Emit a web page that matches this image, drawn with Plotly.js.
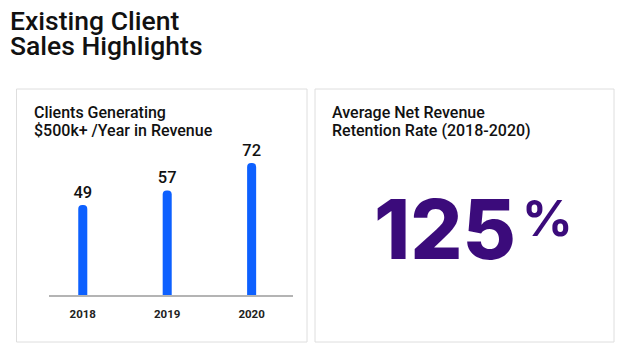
<!DOCTYPE html>
<html>
<head>
<meta charset="utf-8">
<script src="https://cdn.plot.ly/plotly-3.0.1.min.js"></script>
<style>html,body{margin:0;padding:0;background:#fff;}#chart{width:620px;height:348px;}</style>
</head>
<body>
<div id="chart"></div>
<script>
const years = ['2018', '2019', '2020'];
const clients = [49, 57, 72];
const retentionRate = '125';
const retentionUnit = '%';
const mainTitle = ['Existing Client', 'Sales Highlights'];
const leftTitle = ['Clients Generating', '$500k+ /Year in Revenue'];
const rightTitle = ['Average Net Revenue', 'Retention Rate (2018-2020)'];

const W = 620, H = 348;
const px = x => x / W;
const py = y => 1 - y / H;
const FONT = 'Roboto, Inter, "Noto Sans", sans-serif';
const BIG = 'Inter, Roboto, sans-serif';

const trace = {
  type: 'bar',
  x: years,
  y: clients,
  width: 0.107,
  marker: {color: '#0d60ff', cornerradius: '50%'},
  text: clients.map(String),
  textposition: 'outside',
  constraintext: 'none',
  textfont: {family: FONT, size: 16.5, color: '#111', weight: 500},
  cliponaxis: false,
  hoverinfo: 'skip'
};

function lineAnn(text, x, y, size, weight) {
  return {
    text: text, xref: 'paper', yref: 'paper', x: px(x), y: py(y),
    xanchor: 'left', yanchor: 'middle', showarrow: false,
    font: {family: FONT, size: size, color: '#111', weight: weight}
  };
}

const layout = {
  width: W, height: H,
  margin: {l: 0, r: 0, t: 0, b: 0},
  paper_bgcolor: '#fff', plot_bgcolor: '#fff',
  showlegend: false,
  xaxis: {
    domain: [px(49), px(293)],
    type: 'category',
    range: [-0.40, 2.49],
    showline: true, linecolor: '#b4b4b4', linewidth: 1.5,
    showgrid: false, zeroline: false, ticks: '',
    ticklabelstandoff: 8,
    tickfont: {family: FONT, size: 11.5, color: '#222', weight: 700},
    fixedrange: true
  },
  yaxis: {
    domain: [py(295), py(140)],
    range: [0, 84.5],
    visible: false, showgrid: false, zeroline: false, fixedrange: true
  },
  shapes: [
    {type: 'rect', xref: 'paper', yref: 'paper', x0: px(16.5), x1: px(307), y0: py(89), y1: py(342),
     line: {color: '#dedede', width: 1}},
    {type: 'rect', xref: 'paper', yref: 'paper', x0: px(315), x1: px(614), y0: py(89), y1: py(342),
     line: {color: '#dedede', width: 1}}
  ],
  annotations: [
    lineAnn(mainTitle[0], 8, 20.5, 26.5, 500),
    lineAnn(mainTitle[1], 8, 45.5, 26.5, 500),
    lineAnn(leftTitle[0], 32, 113, 16, 500),
    lineAnn(leftTitle[1], 32, 130.5, 16, 500),
    lineAnn(rightTitle[0], 330, 113, 16, 500),
    lineAnn(rightTitle[1], 330, 130.5, 16, 500),
    {text: retentionRate, xref: 'paper', yref: 'paper', x: px(518), y: py(229),
     xanchor: 'right', yanchor: 'middle', showarrow: false,
     font: {family: BIG, size: 82, color: '#3b0b7b', weight: 800}},
    {text: retentionUnit, xref: 'paper', yref: 'paper', x: px(520), y: py(218),
     xanchor: 'left', yanchor: 'middle', showarrow: false,
     font: {family: BIG, size: 50, color: '#3b0b7b', weight: 700}}
  ]
};

Plotly.newPlot('chart', [trace], layout, {displayModeBar: false, staticPlot: true});
</script>
</body>
</html>
